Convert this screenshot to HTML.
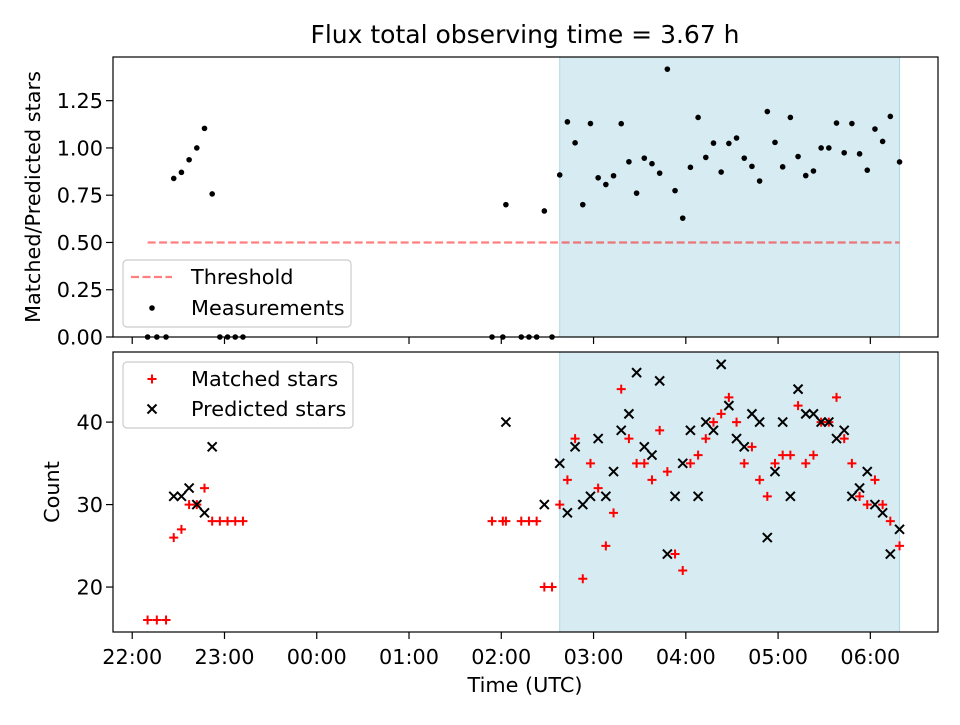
<!DOCTYPE html>
<html><head><meta charset="utf-8"><style>
body{margin:0;background:#fff;}
svg{font-family:"DejaVu Sans","Liberation Sans",sans-serif;}
</style></head><body>
<svg id="c" width="960" height="720" viewBox="0 0 960 720" xmlns="http://www.w3.org/2000/svg"></svg>
<script>
const times = ["22:10","22:16","22:22","22:27","22:32","22:37","22:42","22:47","22:52","22:57","23:02","23:07","23:12",
"01:54","02:01","02:03","02:13","02:18","02:23","02:28","02:33",
"02:38","02:43","02:48","02:53","02:58","03:03","03:08","03:13","03:18","03:23","03:28","03:33","03:38","03:43","03:48","03:53","03:58",
"04:03","04:08","04:13","04:18","04:23","04:28","04:33","04:38","04:43","04:48","04:53","04:58","05:03","05:08","05:13","05:18","05:23",
"05:28","05:33","05:38","05:43","05:48","05:53","05:58","06:03","06:08","06:13","06:19"];
const matched = [16,16,16,26,27,30,30,32,28,28,28,28,28,
28,28,28,28,28,28,20,20,
30,33,38,21,35,32,25,29,44,38,35,35,33,39,34,24,22,
35,36,38,40,41,43,40,35,37,33,31,35,36,36,42,35,36,
40,40,43,38,35,31,30,33,30,28,25];
const predicted = [null,null,null,31,31,32,30,29,37,null,null,null,null,
null,null,40,null,null,null,30,null,
35,29,37,30,31,38,31,34,39,41,46,37,36,45,24,31,35,
39,31,40,39,47,42,38,37,41,40,26,34,40,31,44,41,41,
40,40,38,39,31,32,34,30,29,24,27];
const xTickLabels = ["22:00","23:00","00:00","01:00","02:00","03:00","04:00","05:00","06:00"];
const topYTicks = [0,0.25,0.5,0.75,1.0,1.25];
const botYTicks = [20,30,40];
const threshold = 0.5;
const goodStart = "02:38", goodEnd = "06:19";

const NS="http://www.w3.org/2000/svg";
const svg=document.getElementById('c');
function mk(tag,attrs,parent){const e=document.createElementNS(NS,tag);for(const k in attrs)e.setAttribute(k,attrs[k]);(parent||svg).appendChild(e);return e;}
function toMin(s){const [h,m]=s.split(':').map(Number);let v=h*60+m-22*60;if(v<-120)v+=1440;return v;}
const L=113,R=938;
const xMin=-12.5,xMax=524;
const xs=v=>L+(v-xMin)/(xMax-xMin)*(R-L);
const T1=57,B1=337,T2=352,B2=632;
const y1=v=>B1-(v-0)/(1.481-0)*(B1-T1);
const y2=v=>B2-(v-14.55)/(48.5-14.55)*(B2-T2);
const FS='20.8';
const TL=7;

let t=mk('text',{x:525,y:43,'text-anchor':'middle','font-size':'25',fill:'#000'});

t.textContent="Flux total observing time = 3.67 h";

function panel(T,B,name){
  const g=mk('g',{});
  const sp=mk('rect',{x:xs(toMin(goodStart)),y:T,width:xs(toMin(goodEnd))-xs(toMin(goodStart)),height:B-T,fill:'#add8e6','fill-opacity':0.5,stroke:'#add8e6','stroke-width':1},g);
  
  return g;
}
const g1=panel(T1,B1,'ratio-panel');
const g2=panel(T2,B2,'count-panel');

const th=mk('line',{x1:xs(toMin("22:10")),x2:xs(toMin("06:19")),y1:y1(threshold),y2:y1(threshold),stroke:'#ff0000','stroke-opacity':0.5,'stroke-width':2.2,'stroke-dasharray':'8,3.5'},g1);


times.forEach((s,i)=>{
  const r=predicted[i]?matched[i]/predicted[i]:0;
  const c=mk('circle',{cx:xs(toMin(s)),cy:y1(r),r:2.8,fill:'#000'},g1);
  
});
times.forEach((s,i)=>{
  const x=xs(toMin(s)),y=y2(matched[i]);
  const p=mk('path',{d:`M${x-4.5},${y}H${x+4.5}M${x},${y-4.5}V${y+4.5}`,stroke:'#ff0000','stroke-width':2,fill:'none'},g2);
  
});
times.forEach((s,i)=>{
  if(predicted[i]==null)return;
  const x=xs(toMin(s)),y=y2(predicted[i]);
  const p=mk('path',{d:`M${x-4.5},${y-4.5}L${x+4.5},${y+4.5}M${x-4.5},${y+4.5}L${x+4.5},${y-4.5}`,stroke:'#000','stroke-width':2,fill:'none'},g2);
  
});

function frame(T,B,name){
  const f=mk('rect',{x:L,y:T,width:R-L,height:B-T,fill:'none',stroke:'#000','stroke-width':1.2});
  
}
frame(T1,B1,'ratio-axes-frame');frame(T2,B2,'count-axes-frame');
xTickLabels.forEach((lab,i)=>{
  const x=xs(toMin(lab));
  mk('line',{x1:x,x2:x,y1:B1,y2:B1+TL,stroke:'#000','stroke-width':1.2});
  mk('line',{x1:x,x2:x,y1:B2,y2:B2+TL,stroke:'#000','stroke-width':1.2});
  const tx=mk('text',{x:x,y:B2+32,'text-anchor':'middle','font-size':FS});
  
  tx.textContent=lab;
});
topYTicks.forEach(v=>{
  const y=y1(v);
  mk('line',{x1:L-TL,x2:L,y1:y,y2:y,stroke:'#000','stroke-width':1.2});
  const tx=mk('text',{x:L-10,y:y+7.5,'text-anchor':'end','font-size':FS});
  
  tx.textContent=v.toFixed(2);
});
botYTicks.forEach(v=>{
  const y=y2(v);
  mk('line',{x1:L-TL,x2:L,y1:y,y2:y,stroke:'#000','stroke-width':1.2});
  const tx=mk('text',{x:L-10,y:y+7.5,'text-anchor':'end','font-size':FS});
  
  tx.textContent=v;
});
let a=mk('text',{x:40,y:197,'text-anchor':'middle','font-size':FS,transform:'rotate(-90 40 197)'});
a.textContent="Matched/Predicted stars";
a=mk('text',{x:59,y:492,'text-anchor':'middle','font-size':FS,transform:'rotate(-90 59 492)'});
a.textContent="Count";
a=mk('text',{x:525,y:692,'text-anchor':'middle','font-size':FS});
a.textContent="Time (UTC)";

let lg=mk('g',{});
mk('rect',{x:123,y:260,width:228,height:67,rx:4,fill:'#fff','fill-opacity':0.8,stroke:'#ccc','stroke-width':1.2},lg);
mk('line',{x1:131,x2:172,y1:277,y2:277,stroke:'#ff0000','stroke-opacity':0.5,'stroke-width':2.2,'stroke-dasharray':'8,3.5'},lg);
a=mk('text',{x:191,y:284,'font-size':FS},lg);a.textContent="Threshold";
mk('circle',{cx:152,cy:308,r:2.8,fill:'#000'},lg);
a=mk('text',{x:191,y:315,'font-size':FS},lg);a.textContent="Measurements";

lg=mk('g',{});
mk('rect',{x:123,y:362,width:230,height:66,rx:4,fill:'#fff','fill-opacity':0.8,stroke:'#ccc','stroke-width':1.2},lg);
mk('path',{d:'M147.5,379H156.5M152,374.5V383.5',stroke:'#ff0000','stroke-width':2},lg);
a=mk('text',{x:191,y:386,'font-size':FS},lg);a.textContent="Matched stars";
mk('path',{d:'M147.5,404.5L156.5,413.5M147.5,413.5L156.5,404.5',stroke:'#000','stroke-width':2},lg);
a=mk('text',{x:191,y:416,'font-size':FS},lg);a.textContent="Predicted stars";
</script>
</body></html>
